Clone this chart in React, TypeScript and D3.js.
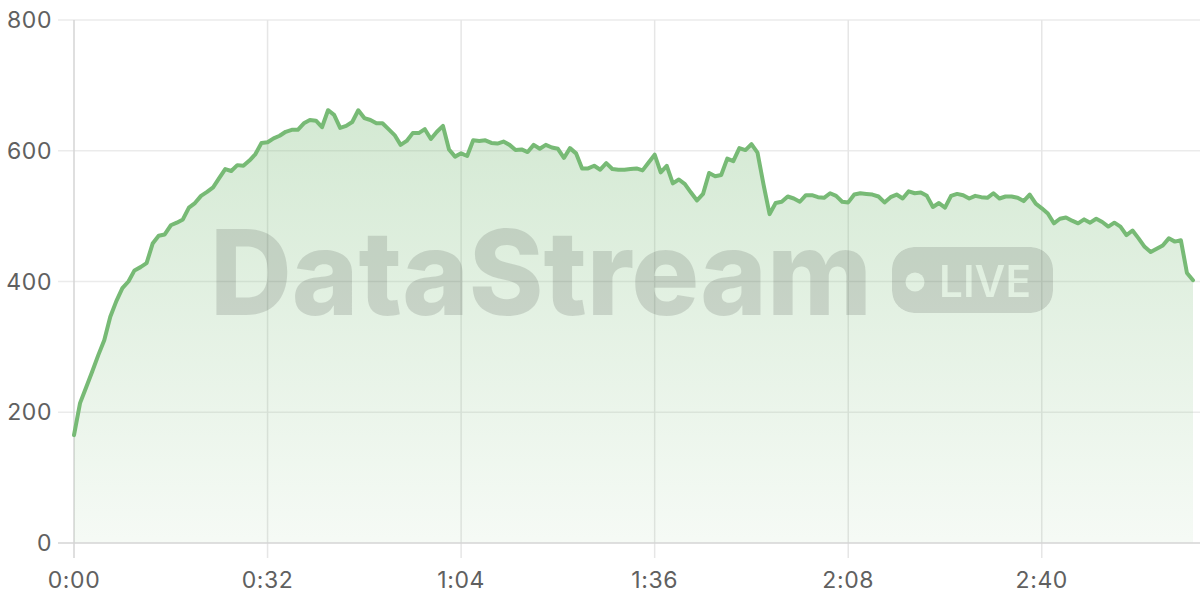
import React from 'react';
import * as d3 from 'd3';

// one sample per second, 0:00 .. 3:05
const values = [
  165, 214, 238, 262, 287, 310, 346, 370, 390, 400,
  417, 422, 428, 458, 470, 472, 486, 490, 495, 513,
  520, 531, 537, 544, 558, 572, 569, 578, 577, 585,
  595, 612, 613, 619, 623, 629, 632, 632, 642, 647,
  646, 636, 662, 655, 635, 638, 644, 662, 650, 647,
  642, 642, 633, 624, 609, 615, 627, 627, 633, 618,
  629, 638, 602, 591, 596, 592, 616, 615, 616, 612,
  611, 614, 609, 601, 602, 598, 609, 603, 609, 605,
  603, 589, 604, 596, 573, 573, 577, 571, 581, 572,
  571, 571, 572, 573, 570, 582, 594, 567, 577, 550,
  556, 549, 536, 524, 534, 566, 561, 563, 588, 584,
  604, 601, 610, 597, 548, 503, 520, 522, 530, 527,
  522, 532, 532, 529, 528, 535, 531, 522, 521, 533,
  535, 534, 533, 530, 521, 529, 533, 527, 538, 535,
  536, 531, 514, 520, 513, 531, 534, 532, 527, 531,
  529, 528, 535, 527, 530, 530, 528, 523, 533, 519,
  512, 504, 489, 496, 498, 493, 489, 495, 490, 496,
  491, 484, 490, 484, 471, 478, 466, 453, 445, 450,
  455, 466, 461, 463, 413, 402,
];

const xTickSeconds = [0, 32, 64, 96, 128, 160];
const xTickLabels = ['0:00', '0:32', '1:04', '1:36', '2:08', '2:40'];
const yTicks = [0, 200, 400, 600, 800];

const W = 1200;
const H = 600;
const green = '#77ba75';
const font = "Inter, 'Open Sans', sans-serif";

export default function App() {
  const x = d3.scaleLinear().domain([0, values.length - 1]).range([74, 1193]);
  const y = d3.scaleLinear().domain([0, 800]).range([543, 20]);

  const line = d3.line<number>()
    .x((_, i) => x(i))
    .y(d => y(d));

  const area = d3.area<number>()
    .x((_, i) => x(i))
    .y0(y(0))
    .y1(d => y(d));

  return (
    <svg width={W} height={H} style={{ position: 'absolute', left: 0, top: 0, background: '#fff' }}>
      <defs>
        <linearGradient id="fillGrad" x1="0" y1="0" x2="0" y2="1">
          <stop offset="0%" stopColor={green} stopOpacity={0.32} />
          <stop offset="100%" stopColor={green} stopOpacity={0.07} />
        </linearGradient>
        <mask id="pillMask">
          <rect x={892} y={247} width={161} height={66} rx={22} fill="#fff" />
          <circle cx={915} cy={282} r={9.5} fill="#000" />
          <text x={939} y={297} fontFamily={font} fontWeight={600} fontSize={44} fill="#000"
            textLength={92} lengthAdjust="spacingAndGlyphs">LIVE</text>
        </mask>
      </defs>

      {/* grid */}
      {yTicks.filter(t => t > 0).map(t => (
        <line key={'gy' + t} x1={58} x2={W} y1={y(t)} y2={y(t)} stroke="#ebebeb" strokeWidth={1.5} />
      ))}
      {xTickSeconds.map(t => (
        <line key={'gx' + t} x1={x(t)} x2={x(t)} y1={20} y2={558}
          stroke={t === 0 ? '#d4d4d4' : '#e6e6e6'} strokeWidth={1.5} />
      ))}

      <path d={area(values) || ''} fill="url(#fillGrad)" />

      {/* watermark */}
      <g>
        <text x={210} y={315} fontFamily={font} fontWeight={800} fontSize={118}
          fill="#000" fillOpacity={0.12} textLength={662} lengthAdjust="spacingAndGlyphs">DataStream</text>
        <rect x={892} y={247} width={161} height={66} rx={22} fill="#000" fillOpacity={0.12} mask="url(#pillMask)" />
      </g>

      <line x1={58} x2={W} y1={y(0)} y2={y(0)} stroke="#d4d4d4" strokeWidth={1.5} />

      <path d={line(values) || ''} fill="none" stroke={green} strokeWidth={4}
        strokeLinejoin="round" strokeLinecap="round" />

      {yTicks.map(t => (
        <text key={'ly' + t} x={52} y={y(t)} dy="0.35em" textAnchor="end"
          fontFamily={font} fontSize={23} letterSpacing={0.6} fill="#606060">{t}</text>
      ))}
      {xTickSeconds.map((t, i) => (
        <text key={'lx' + t} x={x(t)} y={580} dy="0.35em" textAnchor="middle"
          fontFamily={font} fontSize={23} letterSpacing={0.6} fill="#606060">{xTickLabels[i]}</text>
      ))}
    </svg>
  );
}
